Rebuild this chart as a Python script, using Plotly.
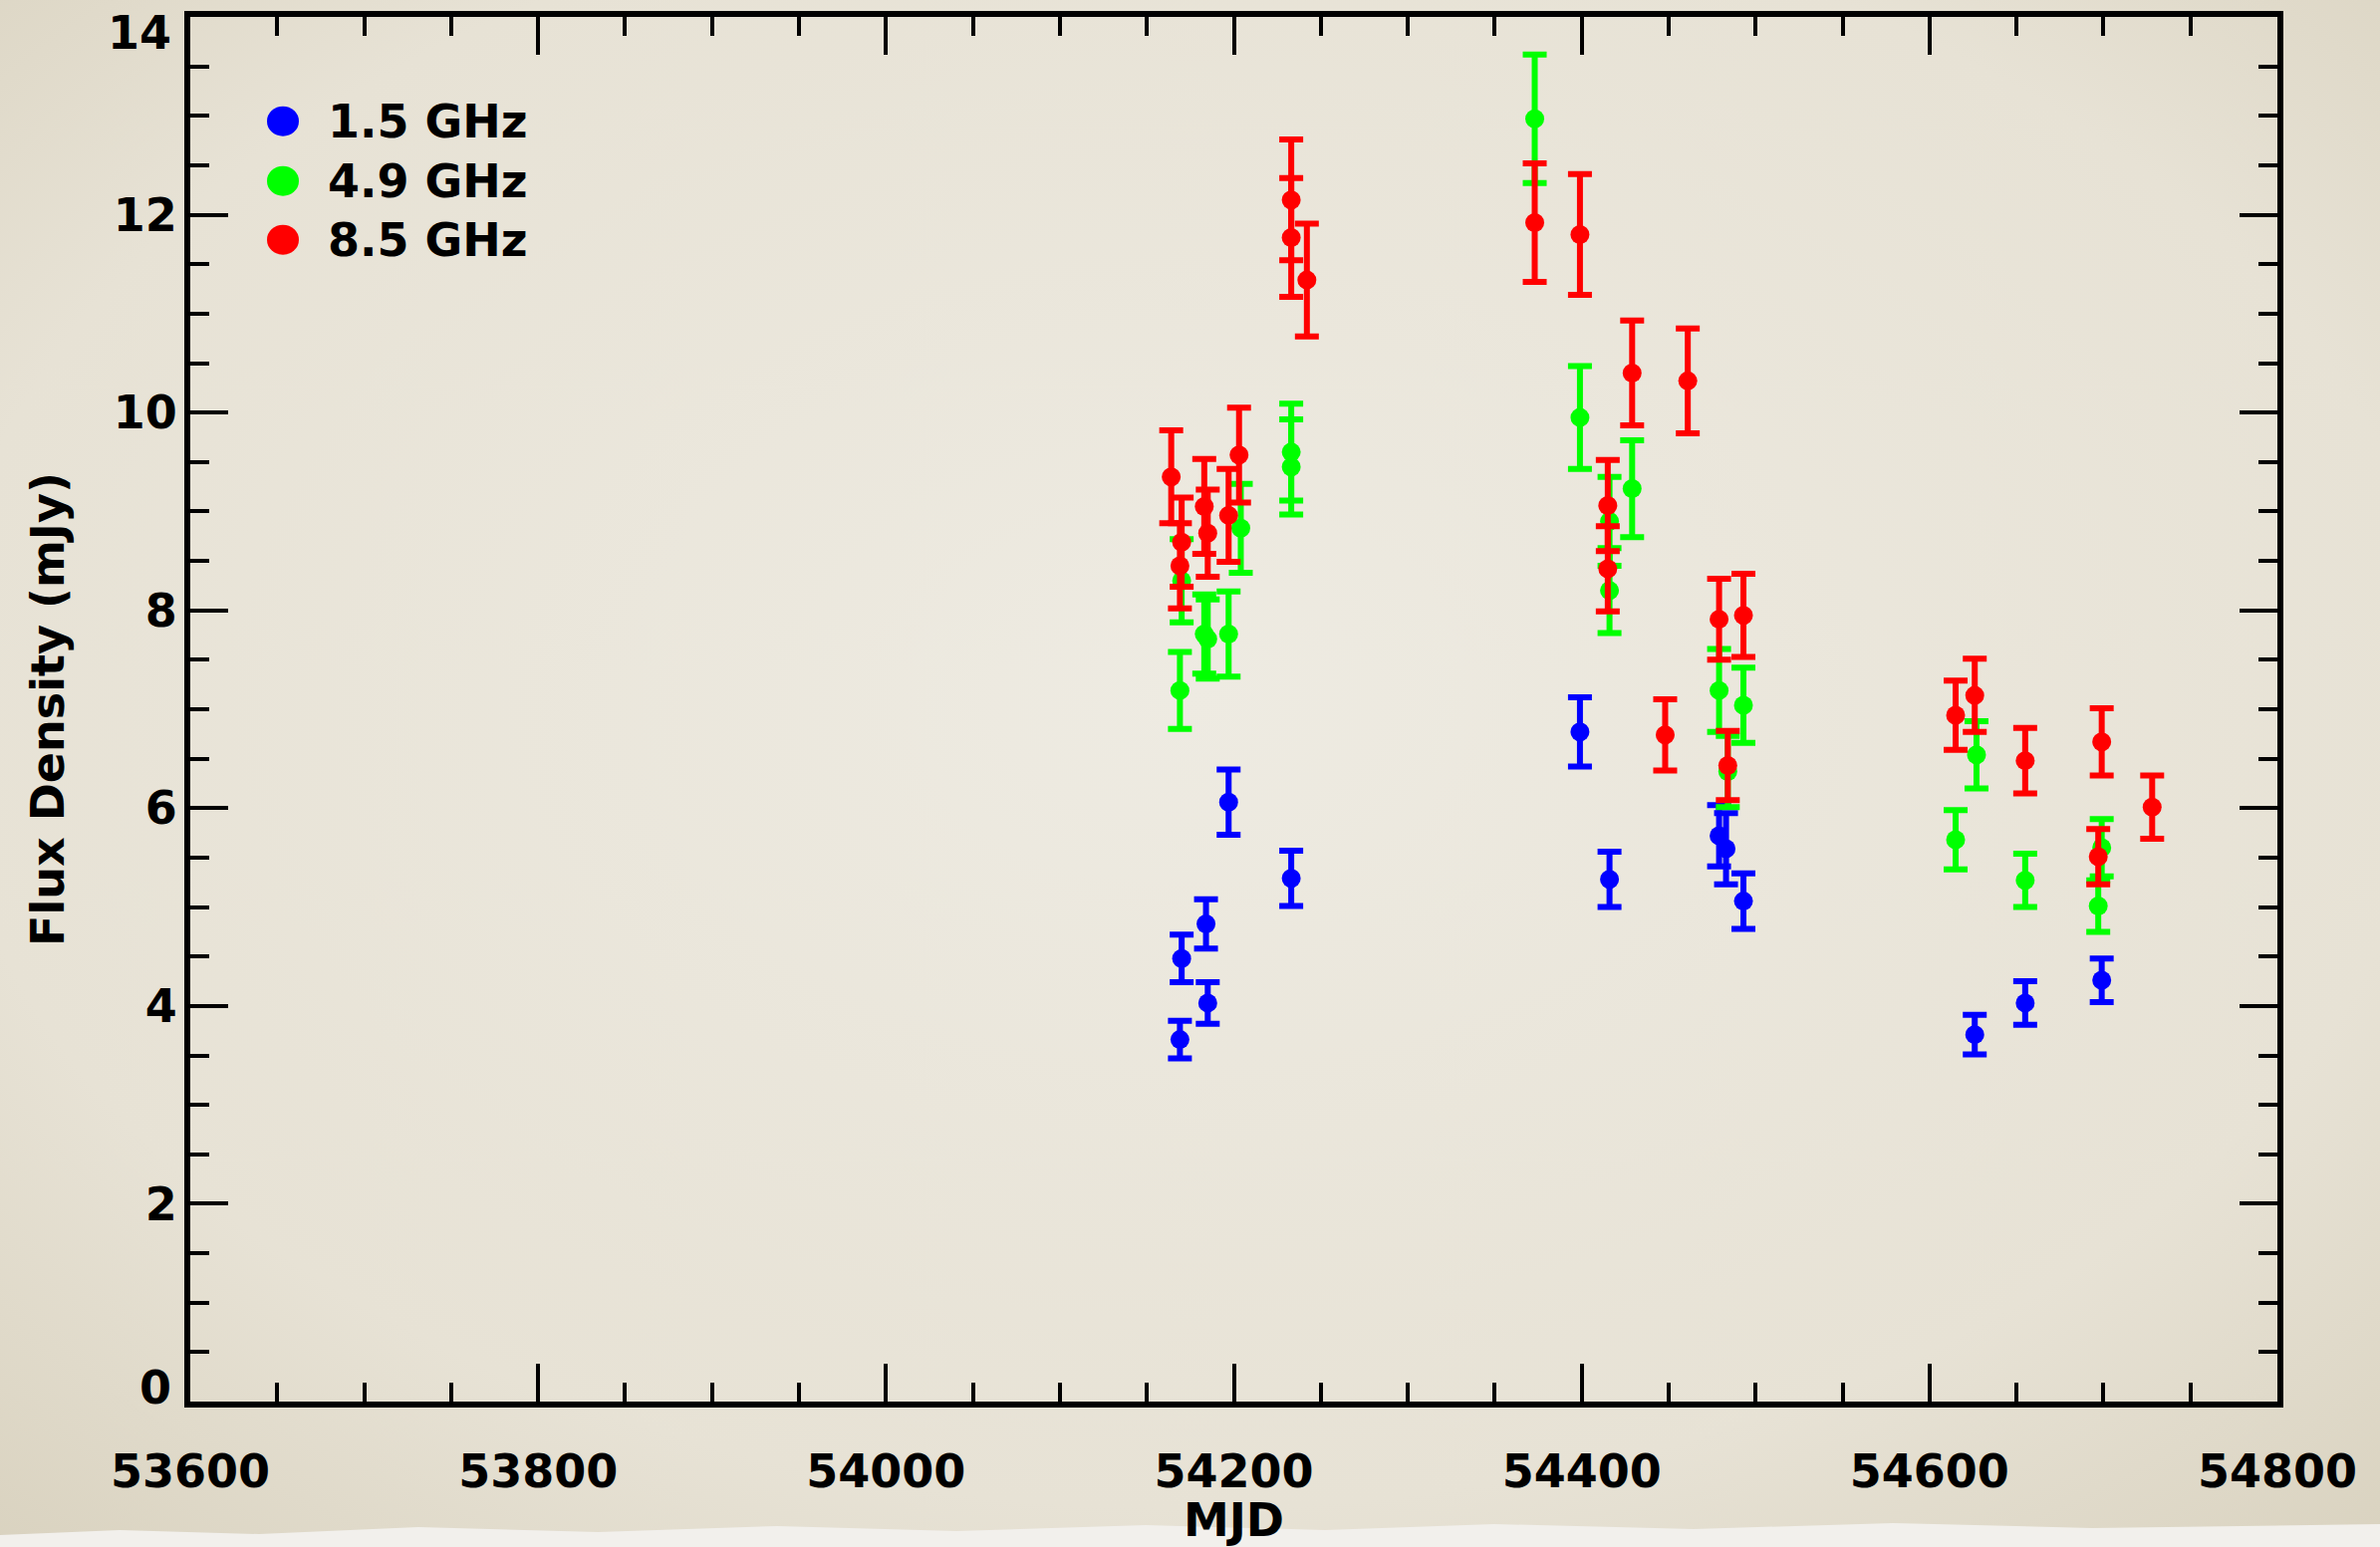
import base64
import plotly.graph_objects as go

# ---------------- data ----------------
names = ["1.5 GHz", "4.9 GHz", "8.5 GHz"]
colors = ["#0000ff", "#00ff00", "#ff0000"]

mjd_15 = [54169, 54170, 54184, 54185, 54197, 54233, 54399, 54416, 54479, 54483, 54493, 54626, 54655, 54699]
flux_15 = [3.66, 4.48, 4.83, 4.03, 6.06, 5.29, 6.77, 5.28, 5.72, 5.59, 5.06, 3.71, 4.03, 4.26]
err_15 = [0.19, 0.24, 0.25, 0.21, 0.33, 0.28, 0.35, 0.28, 0.31, 0.36, 0.28, 0.20, 0.22, 0.22]

mjd_49 = [54169, 54170, 54183, 54185, 54197, 54204, 54233, 54233, 54373, 54399, 54416, 54416,
          54429, 54479, 54484, 54493, 54615, 54627, 54655, 54697, 54699]
flux_49 = [7.19, 8.30, 7.76, 7.71, 7.76, 8.83, 9.60, 9.45, 12.97, 9.95, 8.90, 8.20,
           9.23, 7.19, 6.37, 7.04, 5.68, 6.54, 5.27, 5.01, 5.60]
err_49 = [0.39, 0.42, 0.40, 0.40, 0.43, 0.45, 0.49, 0.48, 0.65, 0.52, 0.45, 0.43,
          0.49, 0.42, 0.36, 0.38, 0.30, 0.34, 0.27, 0.26, 0.29]

mjd_85 = [54164, 54170, 54169, 54183, 54185, 54197, 54203, 54233, 54233, 54242, 54373, 54399,
          54415, 54415, 54429, 54448, 54461, 54479, 54484, 54493, 54615, 54626, 54655, 54697,
          54699, 54728]
flux_85 = [9.35, 8.69, 8.45, 9.05, 8.78, 8.96, 9.57, 12.15, 11.77, 11.34, 11.92, 11.80,
           9.06, 8.42, 10.40, 6.74, 10.32, 7.91, 6.43, 7.95, 6.94, 7.14, 6.48, 5.51,
           6.67, 6.01]
err_85 = [0.47, 0.45, 0.43, 0.48, 0.44, 0.47, 0.48, 0.61, 0.60, 0.57, 0.60, 0.61,
          0.46, 0.43, 0.53, 0.36, 0.53, 0.41, 0.35, 0.42, 0.35, 0.37, 0.33, 0.28,
          0.34, 0.32]

x_ticks = [53600, 53800, 54000, 54200, 54400, 54600, 54800]
y_ticks = [0, 2, 4, 6, 8, 10, 12, 14]

series = [
    (names[0], colors[0], mjd_15, flux_15, err_15),
    (names[1], colors[1], mjd_49, flux_49, err_49),
    (names[2], colors[2], mjd_85, flux_85, err_85),
]

# ---------------- layout geometry ----------------
W, H = 2389, 1553
ML, MR, MT, MB = 191, 103, 17, 146
PW, PH = W - ML - MR, H - MT - MB

FONT = "DejaVu Sans"
TICKFONT = dict(family=FONT, size=46, color="black", weight="bold")

fig = go.Figure()
for name, col, xs, ys, es in series:
    fig.add_trace(go.Scatter(
        x=xs, y=ys, mode="markers", name=name, showlegend=False,
        marker=dict(color=col, size=19, line=dict(width=0)),
        error_y=dict(type="data", array=es, visible=True, color=col,
                     thickness=6, width=12),
    ))

# background (paper texture approximation)
svg = f'''<svg xmlns="http://www.w3.org/2000/svg" width="{W}" height="{H}" viewBox="0 0 {W} {H}">
<defs><radialGradient id="g" cx="50%" cy="45%" r="75%">
<stop offset="0%" stop-color="#eeebe2"/><stop offset="70%" stop-color="#e7e2d5"/>
<stop offset="100%" stop-color="#d9d2bf"/></radialGradient></defs>
<rect width="{W}" height="{H}" fill="url(#g)"/>
<polygon fill="#f2f0ec" points="0,1541 120,1536 260,1540 420,1533 600,1538 780,1532 960,1537 1150,1531 1330,1536 1500,1530 1700,1535 1900,1529 2100,1534 2389,1530 2389,1553 0,1553"/>
</svg>'''
src = "data:image/svg+xml;base64," + base64.b64encode(svg.encode()).decode()
fig.add_layout_image(dict(source=src, xref="paper", yref="paper",
                          x=-ML / PW, y=1 + MT / PH, sizex=W / PW, sizey=H / PH,
                          xanchor="left", yanchor="top", sizing="stretch", layer="below"))

# legend drawn as circles + labels
leg_y = [121.7, 181.7, 240.7]
for i, (name, col) in enumerate(zip(names, colors)):
    yp = 1 - (leg_y[i] - MT) / PH
    fig.add_shape(type="circle", xref="paper", yref="paper",
                  xsizemode="pixel", ysizemode="pixel",
                  xanchor=(284 - ML) / PW, yanchor=yp,
                  x0=-16, x1=16, y0=-15, y1=15,
                  fillcolor=col, line=dict(width=0))
    fig.add_annotation(xref="paper", yref="paper", x=(327 - ML) / PW, y=yp,
                       xanchor="left", yanchor="middle", showarrow=False,
                       text=name, font=dict(family=FONT, size=46, color="black", weight="bold"))

# end y tick labels, nudged inside the frame as in the original
fig.add_annotation(xref="paper", yref="paper", x=(174 - ML) / PW, y=1 - (33 - MT) / PH,
                   xanchor="right", yanchor="middle", showarrow=False,
                   text=str(y_ticks[-1]), font=TICKFONT)
fig.add_annotation(xref="paper", yref="paper", x=(174 - ML) / PW, y=1 - (1393 - MT) / PH,
                   xanchor="right", yanchor="middle", showarrow=False,
                   text=str(y_ticks[0]), font=TICKFONT)

axis_common = dict(
    showline=True, linecolor="black", linewidth=6, mirror="ticks",
    ticks="inside", tickcolor="black", tickwidth=4, ticklen=38,
    showgrid=False, zeroline=False, automargin=False,
)

fig.update_xaxes(
    range=[53600, 54800], tickvals=x_ticks, ticktext=[str(v) for v in x_ticks],
    tickfont=TICKFONT,
    ticklabelstandoff=25,
    minor=dict(dtick=50, ticks="inside", ticklen=19, tickwidth=4, tickcolor="black", showgrid=False),
    title=dict(text="MJD", font=dict(family=FONT, size=46, color="black", weight="bold"), standoff=12),
    **axis_common,
)
fig.update_yaxes(
    range=[0, 14], tickvals=y_ticks,
    ticktext=[""] + [str(v) for v in y_ticks[1:-1]] + [""],
    tickfont=TICKFONT,
    ticklabelstandoff=-2,
    minor=dict(dtick=0.5, ticks="inside", ticklen=19, tickwidth=4, tickcolor="black", showgrid=False),
    title=dict(text="Flux Density (mJy)", font=dict(family=FONT, size=46, color="black", weight="bold"), standoff=37),
    **axis_common,
)

fig.update_layout(
    width=W, height=H, autosize=False,
    margin=dict(l=ML, r=MR, t=MT, b=MB, pad=0),
    paper_bgcolor="#e8e4d8", plot_bgcolor="rgba(0,0,0,0)",
    showlegend=False,
)

fig.write_html("out.html")
